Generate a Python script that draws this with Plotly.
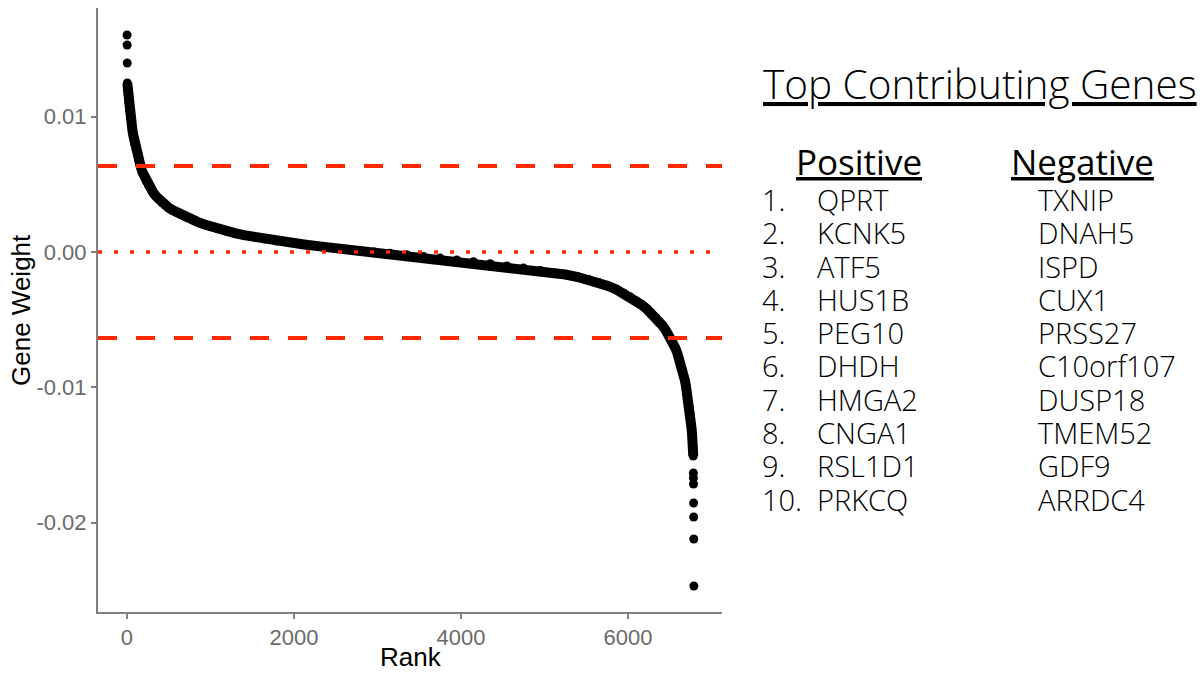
import plotly.graph_objects as go

# ---------------- data ----------------
top_ranks = [1, 2, 3]
top_weights = [0.016038, 0.015299, 0.013969]

band_ranks = [4, 7, 10, 14, 18, 22, 27, 31, 36, 45, 55, 65, 75, 85, 96, 110, 125, 140,
              152, 164, 185, 208, 232, 258, 285, 315, 347, 381, 418, 458, 500, 545, 595,
              650, 710, 775, 845, 920, 1000, 1090, 1185, 1290, 1400, 1520, 1650, 1790,
              1940, 2100, 2260, 2430, 2600, 2780, 2960, 3150, 3350, 3550, 3750, 3950,
              4150, 4350, 4550, 4750, 4950, 5100, 5250, 5400, 5530, 5650, 5760, 5860,
              5950, 6030, 6100, 6165, 6225, 6280, 6330, 6375, 6415, 6450, 6482, 6512,
              6540, 6566, 6590, 6612, 6632, 6650, 6666, 6680, 6693, 6705, 6716, 6726,
              6735, 6743, 6750, 6756, 6762, 6767, 6771, 6775, 6778, 6780, 6781, 6782]
band_weights = [0.012491, 0.012195, 0.011900, 0.011604, 0.011308, 0.011013, 0.010717,
                0.010495, 0.010273, 0.009830, 0.009424, 0.009017, 0.008647, 0.008278,
                0.007945, 0.007576, 0.007206, 0.006874, 0.006578, 0.006319, 0.005905,
                0.005558, 0.005233, 0.004930, 0.004656, 0.004383, 0.004132, 0.003888,
                0.003651, 0.003452, 0.003267, 0.003097, 0.002927, 0.002757, 0.002579,
                0.002409, 0.002232, 0.002055, 0.001885, 0.001715, 0.001552, 0.001397,
                0.001249, 0.001101, 0.000961, 0.000820, 0.000695, 0.000569, 0.000451,
                0.000333, 0.000222, 0.000111, 0.000007, -0.000096, -0.000207, -0.000325,
                -0.000451, -0.000584, -0.000724, -0.000872, -0.001027, -0.001190,
                -0.001367, -0.001508, -0.001663, -0.001848, -0.002040, -0.002262,
                -0.002506, -0.002772, -0.003052, -0.003333, -0.003614, -0.003910,
                -0.004213, -0.004523, -0.004834, -0.005144, -0.005455, -0.005758,
                -0.006061, -0.006371, -0.006711, -0.007081, -0.007465, -0.007857,
                -0.008256, -0.008662, -0.009061, -0.009453, -0.009860, -0.010273,
                -0.010695, -0.011101, -0.011501, -0.011900, -0.012291, -0.012668,
                -0.013067, -0.013437, -0.013777, -0.014146, -0.014457, -0.014693,
                -0.014856, -0.015078]

bottom_ranks = [6783, 6784, 6785, 6786, 6787, 6788, 6789]
bottom_weights = [-0.016334, -0.016704, -0.017147, -0.018551, -0.019586, -0.021212, -0.024686]

threshold = 0.00635
x_ticks = [0, 2000, 4000, 6000]
y_ticks = [-0.02, -0.01, 0.0, 0.01]
y_tick_labels = ["-0.02", "-0.01", "0.00", "0.01"]

positive_genes = ["QPRT", "KCNK5", "ATF5", "HUS1B", "PEG10", "DHDH", "HMGA2", "CNGA1", "RSL1D1", "PRKCQ"]
negative_genes = ["TXNIP", "DNAH5", "ISPD", "CUX1", "PRSS27", "C10orf107", "DUSP18", "TMEM52", "GDF9", "ARRDC4"]

# ---------------- figure ----------------
W, H = 1204, 673
RED = "#FF2800"
AXIS_GREY = "#808080"
TICK_GREY = "#6b6b6b"
AF = "Liberation Sans, Arial, sans-serif"
PF = "Open Sans, DejaVu Sans, sans-serif"

fig = go.Figure()

# continuous band of densely packed points
fig.add_trace(go.Scatter(
    x=band_ranks, y=band_weights, mode="lines+markers",
    line=dict(color="black", width=10),
    marker=dict(color="black", size=9),
    hoverinfo="skip", showlegend=False, cliponaxis=False))
# isolated extreme points
fig.add_trace(go.Scatter(
    x=top_ranks + bottom_ranks, y=top_weights + bottom_weights, mode="markers",
    marker=dict(color="black", size=9),
    showlegend=False, cliponaxis=False))

# reference lines
for yv, dash, wdt in [(threshold, "19px,19px", 4), (-threshold, "19px,19px", 4), (0.0, "4px,12px", 3.5)]:
    fig.add_shape(type="line", xref="x domain", x0=0, x1=1, yref="y", y0=yv, y1=yv,
                  line=dict(color=RED, width=wdt, dash=dash), layer="above")

def px(xp):
    return xp / W

def py(yp):
    return 1 - yp / H

fig.update_layout(
    width=W, height=H,
    margin=dict(l=0, r=0, t=0, b=0),
    paper_bgcolor="white", plot_bgcolor="white",
    font=dict(family=AF),
    xaxis=dict(domain=[px(98), px(722)], range=[-347, 7126],
               tickvals=x_ticks, ticktext=[str(v) for v in x_ticks],
               showline=True, linecolor=AXIS_GREY, linewidth=2,
               ticks="outside", ticklen=5, tickwidth=2, tickcolor=AXIS_GREY,
               tickfont=dict(size=22, color=TICK_GREY, family=AF),
               showgrid=False, zeroline=False),
    yaxis=dict(domain=[py(612), py(8)], range=[-0.026608, 0.018034],
               tickvals=y_ticks, ticktext=y_tick_labels,
               showline=True, linecolor=AXIS_GREY, linewidth=2,
               ticks="outside", ticklen=5, tickwidth=2, tickcolor=AXIS_GREY,
               tickfont=dict(size=22, color=TICK_GREY, family=AF),
               showgrid=False, zeroline=False),
)

ann = []
# axis titles
ann.append(dict(text="Rank", x=px(411), y=py(657), xref="paper", yref="paper",
                xanchor="center", yanchor="middle", showarrow=False,
                font=dict(size=26, color="black", family=AF)))
ann.append(dict(text="Gene Weight", x=px(21), y=py(310), xref="paper", yref="paper",
                xanchor="center", yanchor="middle", showarrow=False, textangle=-90,
                font=dict(size=26, color="black", family=AF)))

ann.append(dict(text="<u>Top Contributing Genes</u>", x=px(761), y=py(83), xref="paper", yref="paper",
                xanchor="left", yanchor="middle", showarrow=False,
                font=dict(size=40.5, color="black", family=PF, weight=300)))
ann.append(dict(text="<u>Positive</u>", x=px(794), y=py(161), xref="paper", yref="paper",
                xanchor="left", yanchor="middle", showarrow=False,
                font=dict(size=35, color="black", family=PF, weight=400)))
ann.append(dict(text="<u>Negative</u>", x=px(1009), y=py(161), xref="paper", yref="paper",
                xanchor="left", yanchor="middle", showarrow=False,
                font=dict(size=35, color="black", family=PF, weight=400)))

for i, (pg, ng) in enumerate(zip(positive_genes, negative_genes)):
    yc = 199.5 + 33.3 * i
    ann.append(dict(text=f"{i + 1}.", x=px(760), y=py(yc), xref="paper", yref="paper",
                    xanchor="left", yanchor="middle", showarrow=False,
                    font=dict(size=29, color="black", family=PF, weight=300)))
    ann.append(dict(text=pg, x=px(815), y=py(yc), xref="paper", yref="paper",
                    xanchor="left", yanchor="middle", showarrow=False,
                    font=dict(size=29, color="black", family=PF, weight=300)))
    ann.append(dict(text=ng, x=px(1036), y=py(yc), xref="paper", yref="paper",
                    xanchor="left", yanchor="middle", showarrow=False,
                    font=dict(size=29, color="black", family=PF, weight=300)))

fig.update_layout(annotations=ann)

fig.write_html("out.html")
